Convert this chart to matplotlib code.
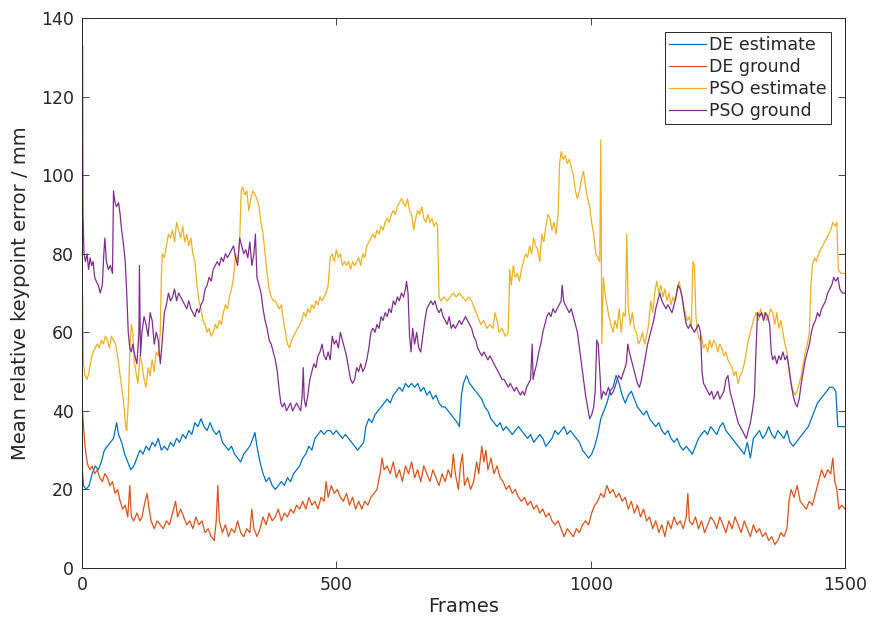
import numpy as np
import matplotlib
matplotlib.use("Agg")
import matplotlib.pyplot as plt

# (frame, value) pairs
de_est = [(0, 26), (3, 21), (8, 20), (14, 21), (20, 24), (26, 26), (32, 25), (38, 27), (44, 30), (50, 31),
          (56, 32), (62, 33), (68, 37), (72, 34), (78, 32), (84, 29), (90, 27), (96, 25), (102, 26), (108, 28),
          (114, 30), (120, 29), (126, 31), (132, 30), (138, 32), (144, 31), (150, 33), (156, 30), (162, 31),
          (168, 30), (174, 32), (180, 31), (186, 33), (192, 32), (198, 34), (204, 33), (210, 35), (216, 34),
          (222, 37), (228, 36), (234, 38), (240, 36), (246, 35), (252, 37), (258, 35), (264, 34), (270, 35),
          (276, 32), (282, 31), (288, 30), (294, 31), (300, 29), (306, 28), (312, 27), (318, 29), (324, 30),
          (330, 31), (336, 33), (340, 34.5), (344, 31), (350, 27), (356, 24), (362, 22), (368, 23), (374, 21),
          (380, 20), (386, 21), (392, 22), (398, 21), (404, 23), (410, 22), (416, 24), (422, 25), (428, 26),
          (434, 28), (440, 29), (446, 31), (452, 30), (458, 33), (464, 34), (470, 35), (476, 34), (482, 35),
          (488, 35), (494, 34), (500, 35), (506, 34), (512, 33), (518, 34), (524, 33), (530, 32), (536, 31),
          (542, 30), (548, 31), (554, 32), (558, 36), (564, 38), (570, 37), (576, 39), (582, 40), (588, 41),
          (594, 42), (600, 43), (606, 42), (612, 44), (618, 45), (624, 46), (630, 45), (636, 47), (642, 46),
          (648, 47), (654, 46), (660, 47), (666, 45), (672, 46), (678, 44), (684, 45), (690, 43), (696, 44),
          (702, 42), (708, 41), (714, 41), (720, 40), (726, 39), (732, 38), (738, 37), (742, 36), (746, 44),
          (750, 47), (756, 49), (762, 47), (768, 46), (774, 45), (780, 44), (786, 43), (792, 41), (798, 40),
          (804, 38), (810, 37), (816, 36), (822, 37), (828, 35), (834, 36), (840, 35), (846, 34), (852, 35),
          (858, 36), (864, 35), (870, 34), (876, 33), (882, 34), (888, 32), (894, 33), (900, 34), (906, 33),
          (912, 31), (918, 32), (924, 33), (930, 35), (936, 34), (942, 35), (948, 36), (954, 34), (960, 35),
          (966, 34), (972, 33), (978, 32), (984, 30), (990, 29), (996, 28), (1002, 29), (1008, 31), (1014, 34),
          (1020, 38), (1026, 40), (1032, 42), (1038, 45), (1044, 46), (1050, 49), (1056, 47), (1062, 44),
          (1068, 42), (1074, 44), (1080, 45), (1086, 43), (1092, 41), (1098, 40), (1104, 39), (1110, 40),
          (1116, 38), (1122, 37), (1128, 36), (1134, 37), (1140, 35), (1146, 34), (1152, 35), (1158, 33),
          (1164, 32), (1170, 33), (1176, 31), (1182, 30), (1188, 31), (1194, 30), (1200, 29), (1206, 31),
          (1212, 33), (1218, 34), (1224, 35), (1230, 34), (1236, 36), (1242, 35), (1248, 34), (1254, 36),
          (1260, 37), (1266, 35), (1272, 34), (1278, 33), (1284, 32), (1290, 31), (1296, 30), (1302, 29),
          (1308, 32), (1314, 28), (1320, 33), (1326, 34), (1332, 35), (1338, 33), (1344, 34), (1350, 36),
          (1356, 34), (1362, 33), (1368, 35), (1374, 34), (1380, 33), (1386, 35), (1392, 32), (1398, 31),
          (1404, 32), (1410, 33), (1416, 34), (1422, 35), (1428, 36), (1434, 38), (1440, 40), (1446, 42),
          (1452, 43), (1458, 44), (1464, 45), (1470, 46), (1476, 46), (1482, 45), (1486, 36), (1492, 36),
          (1500, 36)]

de_gnd = [(0, 15), (1, 40), (3, 36), (6, 31), (9, 28), (12, 26), (16, 25), (20, 26), (25, 24), (30, 25),
          (35, 23), (40, 22), (45, 24), (50, 23), (55, 21), (60, 22), (65, 19), (70, 20), (75, 17), (80, 15),
          (85, 16), (90, 13), (94, 21), (97, 13), (102, 12), (108, 14), (114, 12), (118, 13), (124, 17),
          (128, 19), (132, 15), (136, 12), (142, 10), (148, 12), (154, 11), (160, 10), (166, 12), (172, 11),
          (178, 14), (184, 17), (188, 13), (194, 15), (200, 13), (206, 11), (212, 12), (218, 10), (224, 13),
          (230, 11), (236, 12), (242, 9), (248, 10), (254, 8), (260, 7), (264, 12), (267, 21), (270, 12),
          (276, 9), (282, 11), (288, 8), (294, 10), (300, 9), (306, 12), (312, 9), (318, 8), (324, 10),
          (330, 9), (334, 15), (338, 10), (344, 8), (350, 10), (356, 13), (362, 11), (368, 14), (374, 12),
          (380, 13), (386, 15), (392, 12), (398, 14), (404, 13), (410, 15), (416, 14), (422, 16), (428, 15),
          (434, 17), (440, 15), (446, 18), (452, 16), (458, 17), (464, 15), (470, 18), (476, 17), (480, 22),
          (484, 18), (490, 21), (496, 19), (502, 20), (508, 18), (514, 17), (520, 19), (526, 16), (532, 18),
          (538, 15), (544, 17), (550, 15), (556, 17), (562, 16), (568, 18), (574, 19), (580, 20), (586, 24),
          (590, 28), (594, 25), (600, 26), (606, 24), (612, 27), (618, 23), (624, 25), (630, 22), (636, 26),
          (642, 24), (648, 27), (654, 23), (660, 25), (666, 22), (672, 26), (678, 24), (684, 22), (690, 25),
          (696, 23), (702, 21), (708, 24), (714, 22), (720, 25), (726, 23), (730, 29), (734, 24), (740, 20),
          (744, 26), (748, 29), (752, 21), (758, 23), (764, 20), (770, 22), (776, 27), (780, 24), (786, 31),
          (790, 27), (794, 30), (798, 25), (804, 28), (810, 24), (816, 26), (822, 23), (828, 22), (834, 20),
          (840, 21), (846, 19), (852, 20), (858, 18), (864, 17), (870, 18), (876, 16), (882, 17), (888, 15),
          (894, 16), (900, 14), (906, 15), (912, 13), (918, 14), (924, 12), (930, 11), (936, 12), (942, 10),
          (948, 8), (954, 10), (960, 9), (966, 8), (972, 10), (978, 9), (984, 11), (990, 12), (996, 11),
          (1002, 14), (1008, 16), (1014, 17), (1020, 19), (1026, 18), (1032, 21), (1038, 19), (1044, 20),
          (1050, 18), (1056, 19), (1062, 17), (1068, 18), (1074, 15), (1080, 17), (1086, 14), (1092, 16),
          (1098, 13), (1104, 15), (1110, 12), (1116, 13), (1122, 10), (1128, 12), (1134, 9), (1140, 11),
          (1146, 8), (1152, 12), (1158, 10), (1164, 13), (1170, 11), (1176, 12), (1182, 10), (1188, 13),
          (1191, 19), (1194, 12), (1200, 11), (1206, 13), (1212, 10), (1218, 12), (1224, 9), (1230, 11),
          (1236, 13), (1242, 12), (1248, 10), (1254, 13), (1260, 11), (1266, 9), (1272, 12), (1278, 10),
          (1284, 13), (1290, 11), (1296, 9), (1302, 12), (1308, 10), (1314, 8), (1320, 11), (1326, 9),
          (1332, 10), (1338, 8), (1344, 9), (1350, 7), (1356, 8), (1362, 6), (1368, 7), (1374, 9), (1380, 8),
          (1386, 10), (1390, 17), (1394, 20), (1400, 18), (1406, 21), (1412, 17), (1418, 16), (1424, 15),
          (1430, 17), (1436, 16), (1442, 19), (1448, 22), (1454, 25), (1460, 23), (1466, 25), (1472, 24),
          (1476, 28), (1480, 22), (1484, 20), (1488, 15), (1494, 16), (1500, 15)]

pso_est = [(0, 0), (1, 70), (3, 52), (6, 49), (10, 48), (14, 50), (18, 53), (22, 55), (26, 56), (30, 57),
           (34, 56), (38, 58), (42, 57), (46, 59), (50, 58), (54, 56), (58, 59), (62, 58), (66, 57), (70, 54),
           (74, 50), (78, 46), (82, 42), (86, 36), (88, 35), (91, 42), (94, 55), (97, 62), (100, 60), (103, 52),
           (106, 50), (110, 47), (114, 54), (118, 52), (122, 48), (126, 46), (130, 51), (134, 49), (138, 53),
           (142, 50), (146, 55), (150, 54), (154, 60), (156, 74), (158, 80), (162, 79), (166, 82), (170, 85),
           (174, 84), (178, 86), (182, 83), (186, 88), (190, 86), (194, 84), (198, 87), (202, 83), (206, 85),
           (210, 82), (214, 84), (218, 80), (222, 78), (226, 72), (230, 68), (234, 66), (238, 63), (242, 62),
           (246, 60), (250, 61), (254, 59), (258, 60), (262, 62), (266, 61), (270, 63), (274, 62), (278, 65),
           (282, 67), (286, 66), (290, 69), (294, 71), (298, 74), (302, 80), (306, 78), (310, 83), (313, 96),
           (316, 97), (320, 95), (324, 96), (328, 91), (332, 94), (336, 96), (340, 95), (344, 94), (348, 92),
           (352, 88), (356, 85), (360, 80), (364, 75), (368, 71), (372, 69), (376, 68), (380, 68), (384, 67),
           (388, 66), (392, 67), (396, 63), (400, 60), (404, 57), (408, 56), (412, 58), (416, 59), (420, 60),
           (424, 61), (428, 62), (432, 63), (436, 65), (440, 64), (444, 66), (448, 65), (452, 67), (456, 66),
           (460, 68), (464, 67), (468, 69), (472, 68), (476, 69), (480, 70), (484, 72), (488, 79), (492, 80),
           (496, 78), (500, 81), (504, 79), (508, 80), (512, 77), (516, 78), (520, 77), (524, 78), (528, 76),
           (532, 78), (536, 77), (540, 78), (544, 79), (548, 77), (552, 80), (556, 79), (560, 82), (564, 83),
           (568, 84), (572, 85), (576, 84), (580, 86), (584, 85), (588, 87), (592, 86), (596, 88), (600, 89),
           (604, 88), (608, 90), (612, 91), (616, 90), (620, 92), (624, 93), (628, 94), (632, 93), (636, 92),
           (640, 94), (644, 91), (648, 90), (652, 86), (656, 89), (660, 91), (664, 90), (668, 92), (672, 89),
           (676, 88), (680, 90), (684, 88), (688, 89), (692, 87), (696, 88), (699, 87), (702, 69), (706, 68),
           (712, 69), (718, 68), (724, 69), (730, 70), (736, 69), (742, 70), (748, 69), (754, 68), (760, 69),
           (766, 68), (772, 66), (778, 64), (784, 62), (790, 63), (796, 61), (802, 62), (808, 61), (812, 65),
           (816, 63), (820, 60), (826, 61), (832, 59), (838, 60), (841, 76), (844, 72), (848, 77), (852, 74),
           (856, 75), (860, 73), (864, 76), (868, 78), (872, 80), (876, 79), (880, 82), (884, 80), (888, 84),
           (892, 82), (896, 81), (900, 78), (904, 85), (908, 83), (912, 87), (916, 90), (920, 89), (924, 86),
           (928, 88), (932, 85), (936, 90), (939, 103), (942, 106), (946, 104), (950, 105), (954, 103),
           (958, 104), (962, 102), (966, 100), (970, 96), (974, 94), (978, 96), (982, 99), (986, 101), (990, 97),
           (994, 94), (998, 92), (1002, 88), (1006, 85), (1010, 80), (1014, 79), (1018, 78), (1020, 109),
           (1022, 57), (1025, 74), (1028, 70), (1032, 67), (1036, 64), (1040, 62), (1044, 60), (1048, 63),
           (1052, 61), (1056, 66), (1060, 60), (1064, 65), (1068, 64), (1071, 85), (1074, 66), (1078, 62),
           (1082, 65), (1086, 61), (1090, 60), (1094, 57), (1098, 58), (1102, 60), (1106, 57), (1110, 59),
           (1114, 62), (1118, 68), (1122, 65), (1126, 70), (1130, 73), (1134, 70), (1138, 72), (1142, 69),
           (1146, 71), (1150, 68), (1154, 70), (1158, 67), (1162, 69), (1166, 68), (1170, 71), (1174, 73),
           (1178, 70), (1182, 67), (1186, 65), (1190, 63), (1194, 64), (1198, 61), (1201, 78), (1204, 77),
           (1207, 64), (1210, 60), (1214, 58), (1218, 59), (1222, 56), (1226, 57), (1230, 55), (1234, 58),
           (1238, 56), (1242, 58), (1246, 57), (1250, 55), (1254, 57), (1258, 56), (1262, 54), (1266, 55),
           (1270, 53), (1274, 52), (1278, 51), (1282, 49), (1286, 50), (1290, 47), (1294, 49), (1298, 50),
           (1302, 52), (1306, 55), (1310, 58), (1314, 60), (1318, 62), (1322, 64), (1326, 65), (1330, 63),
           (1334, 66), (1338, 64), (1342, 65), (1346, 63), (1350, 64), (1354, 66), (1358, 65), (1362, 62),
           (1366, 65), (1370, 61), (1374, 63), (1378, 60), (1382, 57), (1386, 55), (1390, 50), (1394, 47),
           (1398, 45), (1402, 44), (1406, 45), (1410, 47), (1414, 49), (1418, 52), (1422, 55), (1426, 57),
           (1430, 60), (1433, 72), (1436, 77), (1440, 79), (1444, 78), (1448, 80), (1452, 81), (1456, 82),
           (1460, 83), (1464, 84), (1468, 85), (1472, 86), (1476, 88), (1480, 87), (1484, 88), (1487, 76),
           (1492, 75), (1500, 75)]

pso_gnd = [(0, 15), (1, 133), (2, 90), (4, 80), (7, 78), (10, 80), (13, 76), (16, 79), (19, 77), (22, 78),
           (25, 74), (28, 73), (32, 72), (36, 70), (40, 72), (43, 80), (45, 84), (48, 78), (52, 76), (56, 77),
           (60, 75), (62, 96), (65, 93), (68, 92), (72, 93), (75, 90), (78, 86), (82, 82), (85, 78), (88, 70),
           (91, 60), (94, 56), (97, 55), (100, 57), (104, 54), (108, 52), (112, 60), (113, 77), (115, 54),
           (118, 60), (122, 64), (126, 62), (130, 59), (134, 65), (138, 63), (142, 57), (146, 60), (150, 58),
           (154, 52), (158, 58), (162, 65), (166, 67), (170, 70), (174, 68), (178, 69), (182, 71), (186, 68),
           (190, 70), (194, 69), (198, 68), (202, 67), (206, 66), (210, 68), (214, 66), (218, 65), (222, 64),
           (226, 66), (230, 65), (234, 67), (238, 68), (242, 71), (246, 72), (250, 74), (254, 73), (258, 76),
           (262, 77), (266, 78), (270, 77), (274, 79), (278, 78), (282, 80), (286, 79), (290, 80), (294, 81),
           (298, 82), (302, 79), (306, 77), (310, 84), (314, 82), (318, 80), (322, 81), (326, 79), (330, 83),
           (334, 77), (338, 80), (341, 85), (344, 74), (348, 72), (352, 70), (356, 66), (360, 63), (364, 61),
           (368, 58), (372, 57), (376, 55), (380, 53), (384, 50), (388, 45), (391, 42), (394, 41), (398, 42),
           (402, 40), (406, 41), (410, 42), (414, 40), (418, 41), (422, 42), (426, 41), (430, 40), (433, 44),
           (435, 51), (437, 43), (440, 41), (444, 44), (448, 48), (452, 50), (456, 52), (460, 51), (464, 54),
           (468, 55), (472, 57), (476, 54), (480, 53), (484, 55), (488, 53), (492, 59), (496, 57), (500, 58),
           (504, 56), (508, 60), (512, 58), (516, 56), (520, 54), (524, 51), (528, 48), (532, 47), (536, 48),
           (540, 51), (544, 50), (548, 52), (552, 50), (556, 51), (560, 53), (564, 56), (568, 60), (572, 61),
           (576, 60), (580, 62), (584, 61), (588, 64), (592, 63), (596, 65), (600, 64), (604, 66), (608, 65),
           (612, 68), (616, 67), (620, 69), (624, 68), (628, 70), (632, 69), (636, 71), (638, 73), (641, 70),
           (644, 59), (647, 55), (650, 61), (654, 57), (658, 60), (662, 56), (666, 55), (670, 59), (674, 63),
           (678, 66), (682, 67), (686, 68), (690, 67), (694, 68), (698, 66), (702, 65), (706, 66), (710, 64),
           (714, 63), (718, 62), (722, 64), (726, 61), (730, 62), (734, 61), (738, 62), (742, 63), (746, 62),
           (750, 63), (754, 64), (758, 63), (762, 62), (766, 61), (770, 59), (774, 58), (778, 56), (782, 55),
           (786, 54), (790, 55), (794, 54), (798, 53), (802, 54), (806, 53), (810, 52), (814, 51), (818, 50),
           (822, 49), (826, 48), (830, 48), (834, 47), (838, 46), (842, 47), (846, 46), (850, 45), (854, 46),
           (858, 45), (862, 44), (866, 45), (870, 44), (874, 46), (878, 47), (882, 48), (885, 57), (887, 48),
           (890, 50), (894, 52), (898, 55), (902, 57), (906, 60), (910, 62), (914, 64), (918, 65), (922, 64),
           (926, 66), (930, 65), (934, 66), (938, 67), (942, 68), (944, 72), (947, 68), (950, 67), (954, 66),
           (958, 65), (962, 66), (966, 64), (970, 62), (974, 60), (978, 56), (982, 52), (986, 48), (990, 44),
           (994, 41), (998, 38), (1002, 39), (1006, 41), (1009, 45), (1012, 58), (1015, 57), (1018, 50),
           (1021, 43), (1025, 45), (1030, 44), (1035, 46), (1040, 44), (1045, 45), (1050, 47), (1055, 49),
           (1060, 48), (1065, 50), (1070, 52), (1073, 57), (1076, 55), (1080, 53), (1084, 51), (1088, 49),
           (1092, 47), (1096, 46), (1100, 48), (1104, 51), (1108, 54), (1112, 57), (1116, 59), (1120, 61),
           (1124, 63), (1128, 66), (1132, 68), (1136, 70), (1140, 68), (1144, 67), (1148, 66), (1152, 67),
           (1156, 66), (1160, 65), (1164, 67), (1168, 69), (1172, 72), (1176, 71), (1180, 69), (1184, 65),
           (1188, 62), (1192, 61), (1196, 62), (1200, 61), (1204, 60), (1208, 61), (1212, 62), (1216, 60),
           (1219, 50), (1222, 47), (1226, 46), (1230, 45), (1234, 44), (1238, 45), (1242, 43), (1246, 44),
           (1250, 45), (1254, 43), (1258, 44), (1262, 45), (1266, 48), (1270, 49), (1274, 45), (1278, 43),
           (1282, 41), (1286, 39), (1290, 37), (1294, 36), (1298, 35), (1302, 34), (1306, 33), (1310, 35),
           (1314, 37), (1318, 40), (1322, 44), (1325, 55), (1328, 65), (1332, 64), (1336, 65), (1340, 63),
           (1344, 65), (1348, 64), (1352, 62), (1355, 55), (1358, 53), (1362, 54), (1366, 52), (1370, 54),
           (1374, 53), (1378, 55), (1382, 53), (1386, 54), (1390, 51), (1394, 47), (1398, 44), (1402, 42),
           (1406, 41), (1410, 43), (1414, 47), (1418, 50), (1422, 53), (1426, 55), (1430, 57), (1434, 60),
           (1438, 62), (1442, 63), (1446, 65), (1450, 64), (1454, 66), (1458, 67), (1462, 68), (1466, 70),
           (1470, 71), (1474, 72), (1478, 74), (1482, 73), (1486, 74), (1490, 71), (1495, 70), (1500, 70)]

labels = ["DE estimate", "DE ground", "PSO estimate", "PSO ground"]
colors = ["#0072BD", "#D95319", "#EDB120", "#7E2F8E"]
series = [de_est, de_gnd, pso_est, pso_gnd]

dark = (0.15, 0.15, 0.15)
plt.rcParams['font.family'] = ['DejaVu Sans']

fig = plt.figure(figsize=(8.72, 6.28), dpi=100)
ax = fig.add_axes([0.094, 0.0955, 0.875, 0.8758])

for s, lab, c in zip(series, labels, colors):
    f, v = np.array(s).T
    ax.plot(f, v, color=c, lw=0.9, label=lab)

ax.set_xlim(0, 1500)
ax.set_ylim(0, 140)
ax.set_xticks([0, 500, 1000, 1500])
ax.set_yticks(np.arange(0, 141, 20))
ax.tick_params(direction='in', top=True, right=True, length=5, width=0.6,
               labelsize=12.5, colors=dark, pad=6)
for sp in ax.spines.values():
    sp.set_color(dark)
    sp.set_linewidth(0.7)

ax.set_xlabel("Frames", fontsize=14, color=dark, labelpad=2)
ax.set_ylabel("Mean relative keypoint error / mm", fontsize=14, color=dark, labelpad=8)

leg = ax.legend(loc='upper right', fontsize=12.5, frameon=True, fancybox=False,
                borderpad=0.25, labelspacing=0.22, handlelength=2.1, handletextpad=0.2,
                borderaxespad=0.8)
leg.get_frame().set_edgecolor(dark)
leg.get_frame().set_linewidth(0.7)
leg.get_frame().set_alpha(1)
for t in leg.get_texts():
    t.set_color(dark)

fig.savefig("out.png", dpi=100)
